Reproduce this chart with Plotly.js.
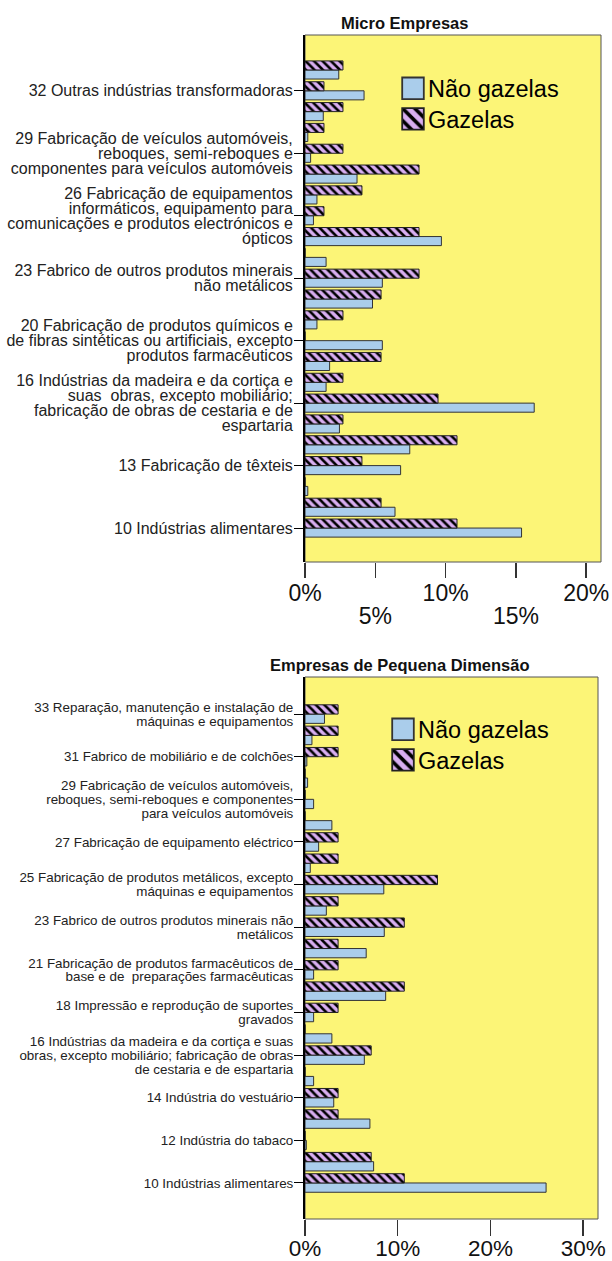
<!DOCTYPE html>
<html>
<head>
<meta charset="utf-8">
<script src="https://cdn.plot.ly/plotly-3.0.1.min.js"></script>
<style>
  html, body { margin: 0; padding: 0; background: #fff; }
  #chart { width: 612px; height: 1261px; }
</style>
</head>
<body>
<div id="chart"></div>
<script>
// Category codes (bottom to top)
const codes = ['10','11','12','13','14','15','16','17','18','20','21','22','23','24','25','26','27','28','29','30','31','32','33'];

// Micro Empresas (%)
const microNaoGazelas = [15.4, 6.4, 0.2, 6.8, 7.45, 2.45, 16.3, 1.5, 1.75, 5.5, 0.85, 4.8, 5.5, 1.5, 9.7, 0.6, 0.85, 3.7, 0.4, 0.2, 1.3, 4.2, 2.4];
const microGazelas    = [10.81, 5.41, 0, 4.05, 10.81, 2.70, 9.46, 2.70, 5.41, 0, 2.70, 5.41, 8.11, 0, 8.11, 1.35, 4.05, 8.11, 2.70, 1.35, 2.70, 1.35, 2.70];

// Empresas de Pequena Dimensão (%)
const pequenaNaoGazelas = [26.0, 7.4, 0.14, 7.0, 3.1, 0.93, 6.4, 2.9, 0.93, 8.7, 0.93, 6.6, 8.55, 2.3, 8.5, 0.57, 1.47, 2.9, 0.93, 0.28, 0.2, 0.75, 2.1];
const pequenaGazelas    = [10.71, 7.14, 0, 3.57, 3.57, 0, 7.14, 0, 3.57, 10.71, 3.57, 3.57, 10.71, 3.57, 14.29, 3.57, 3.57, 0, 0, 0, 3.57, 3.57, 3.57];

// Tick labels shown
const microTickCodes = ['10','13','16','20','23','26','29','32'];
const microTickText = [
  '10 Indústrias alimentares',
  '13 Fabricação de têxteis',
  '16 Indústrias da madeira e da cortiça e<br>suas  obras, excepto mobiliário;<br>fabricação de obras de cestaria e de<br>espartaria',
  '20 Fabricação de produtos químicos e<br>de fibras sintéticas ou artificiais, excepto<br>produtos farmacêuticos',
  '23 Fabrico de outros produtos minerais<br>não metálicos',
  '26 Fabricação de equipamentos<br>informáticos, equipamento para<br>comunicações e produtos electrónicos e<br>ópticos',
  '29 Fabricação de veículos automóveis,<br>reboques, semi-reboques e<br>componentes para veículos automóveis',
  '32 Outras indústrias transformadoras'
];
const pequenaTickCodes = ['10','12','14','16','18','21','23','25','27','29','31','33'];
const pequenaTickText = [
  '10 Indústrias alimentares',
  '12 Indústria do tabaco',
  '14 Indústria do vestuário',
  '16 Indústrias da madeira e da cortiça e suas<br>obras, excepto mobiliário; fabricação de obras<br>de cestaria e de espartaria',
  '18 Impressão e reprodução de suportes<br>gravados',
  '21 Fabricação de produtos farmacêuticos de<br>base e de  preparações farmacêuticas',
  '23 Fabrico de outros produtos minerais não<br>metálicos',
  '25 Fabricação de produtos metálicos, excepto<br>máquinas e equipamentos',
  '27 Fabricação de equipamento eléctrico',
  '29 Fabricação de veículos automóveis,<br>reboques, semi-reboques e componentes<br>para veículos automóveis',
  '31 Fabrico de mobiliário e de colchões',
  '33 Reparação, manutenção e instalação de<br>máquinas e equipamentos'
];

// x tick labels (micro chart labels alternate between two rows)
const microXTicks = [0, 5, 10, 15, 20];
const microXText = ['0%', '<br>5%', '10%', '<br>15%', '20%'];
const pequenaXTicks = [0, 10, 20, 30];
const pequenaXText = ['0%', '10%', '20%', '30%'];

const seriesNames = ['Não gazelas', 'Gazelas'];

const FONT = 'Liberation Sans, Arial, sans-serif';
const BLUE = '#AACDEB';
const LAV = '#D8AEF0';
const YEL = '#FCF577';
const W = 612, H = 1261;

function naoTrace(x, xa, ya, leg) {
  return {type:'bar', orientation:'h', name: seriesNames[0], x: x, y: codes, xaxis: xa, yaxis: ya,
    legend: leg, marker:{color: BLUE, line:{color:'#333', width:1}}, hoverinfo:'skip'};
}
function gazTrace(x, xa, ya, leg) {
  return {type:'bar', orientation:'h', name: seriesNames[1], x: x, y: codes, xaxis: xa, yaxis: ya,
    legend: leg, marker:{color: LAV, line:{color:'#222', width:1},
      pattern:{shape:'\\', fillmode:'replace', bgcolor: LAV, fgcolor:'#000', size:6, solidity:0.42}}, hoverinfo:'skip'};
}

const data = [
  naoTrace(microNaoGazelas, 'x', 'y', 'legend'),
  gazTrace(microGazelas, 'x', 'y', 'legend'),
  naoTrace(pequenaNaoGazelas, 'x2', 'y2', 'legend2'),
  gazTrace(pequenaGazelas, 'x2', 'y2', 'legend2')
];

const yCommon = {type:'category', categoryorder:'array', categoryarray: codes, ticks:'outside', ticklen:9,
  tickcolor:'#000', tickwidth:1, showline:true, linecolor:'#000', linewidth:2, showgrid:false, zeroline:false,
  fixedrange:true, ticklabelstandoff:-2};
const xCommon = {showgrid:false, zeroline:false, showline:false, ticks:'outside', tickcolor:'#333', tickwidth:1.5,
  tickfont:{size:23, family: FONT, color:'#111'}, fixedrange:true, ticklabelstandoff:-5};

const topDomY = [1 - 562/H, 1 - 35/H];
const botDomY = [1 - 1219/H, 1 - 677/H];
const topDomX = [305/W, 601/W];
const botDomX = [305/W, 598/W];

const layout = {
  width: W, height: H,
  margin: {l:0, r:0, t:0, b:0},
  paper_bgcolor: '#fff', plot_bgcolor: YEL,
  barmode: 'group', bargap: 0.13, bargroupgap: 0,
  font: {family: FONT},
  xaxis: Object.assign({}, xCommon, {domain: topDomX, anchor:'y', range:[0, 21.05], tickvals: microXTicks, ticktext: microXText, ticklen:15}),
  yaxis: Object.assign({}, yCommon, {domain: topDomY, anchor:'x', range:[-1.63, 23.68], tickvals: microTickCodes, ticktext: microTickText,
    tickfont:{size:16, family: FONT, color:'#222'}}),
  xaxis2: Object.assign({}, xCommon, {domain: botDomX, anchor:'y2', range:[0, 31.6], tickvals: pequenaXTicks, ticktext: pequenaXText, ticklen:16,
    tickfont:{size:22.5, family: FONT, color:'#111'}, ticklabelstandoff:-7}),
  yaxis2: Object.assign({}, yCommon, {domain: botDomY, anchor:'x2', range:[-1.69, 23.74], tickvals: pequenaTickCodes, ticktext: pequenaTickText,
    tickfont:{size:13.4, family: FONT, color:'#222'}}),
  legend: {x: 388/W, y: 1 - 66.5/H, xanchor:'left', yanchor:'top', bgcolor:'rgba(0,0,0,0)', borderwidth:0,
    font:{size:23.5, family: FONT, color:'#000'}, traceorder:'normal', itemclick:false, itemdoubleclick:false},
  legend2: {x: 378/W, y: 1 - 707.5/H, xanchor:'left', yanchor:'top', bgcolor:'rgba(0,0,0,0)', borderwidth:0,
    font:{size:23.5, family: FONT, color:'#000'}, traceorder:'normal', itemclick:false, itemdoubleclick:false},
  shapes: [
    {type:'rect', xref:'x domain', yref:'y domain', x0:0, x1:1, y0:0, y1:1, line:{color:'#555', width:1}, layer:'below'},
    {type:'rect', xref:'x2 domain', yref:'y2 domain', x0:0, x1:1, y0:0, y1:1, line:{color:'#555', width:1}, layer:'below'}
  ],
  annotations: [
    {text:'<b>Micro Empresas</b>', xref:'paper', yref:'paper', x: 404/W, y: 1 - 22.5/H, xanchor:'center', yanchor:'middle',
      showarrow:false, font:{size:16.5, family: FONT, color:'#111'}},
    {text:'<b>Empresas de Pequena Dimensão</b>', xref:'paper', yref:'paper', x: 400/W, y: 1 - 664.5/H, xanchor:'center', yanchor:'middle',
      showarrow:false, font:{size:16.5, family: FONT, color:'#111'}}
  ]
};

function tightenLines(selector, spacing, recenter) {
  document.querySelectorAll(selector).forEach(function (t) {
    const lines = t.querySelectorAll('tspan.line');
    if (lines.length < 2) return;
    const b0 = t.getBBox();
    const c0 = b0.y + b0.height / 2;
    lines.forEach(function (ln) {
      const dy = ln.getAttribute('dy') || '0em';
      const idx = Math.round(parseFloat(dy) / 1.3);
      ln.setAttribute('dy', (idx * spacing) + 'px');
    });
    if (!recenter) return;
    const b1 = t.getBBox();
    const c1 = b1.y + b1.height / 2;
    const tr = t.getAttribute('transform') || '';
    t.setAttribute('transform', tr + ' translate(0,' + (c0 - c1) + ')');
  });
}

Plotly.newPlot('chart', data, layout, {staticPlot: true, displayModeBar: false}).then(function () {
  tightenLines('g.ytick text', 15, true);
  tightenLines('g.y2tick text', 13.8, true);
  tightenLines('g.xtick text', 23, false);
  document.querySelectorAll('g.legendpoints path').forEach(function (p) {
    const tr = p.getAttribute('transform') || '';
    p.setAttribute('transform', tr + ' translate(5,0) scale(1.8)');
  });
  // tighten legend row spacing
  document.querySelectorAll('g.scrollbox').forEach(function (sb) {
    const items = sb.querySelectorAll('g.traces');
    items.forEach(function (it, i) {
      const tr = it.getAttribute('transform') || '';
      it.setAttribute('transform', tr + ' translate(0,' + (-3 * i) + ')');
    });
  });
});
</script>
</body>
</html>
